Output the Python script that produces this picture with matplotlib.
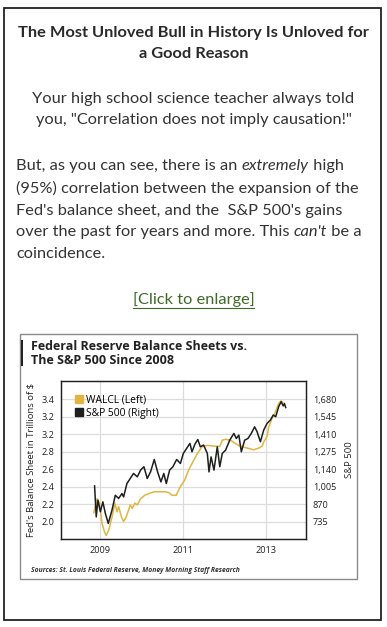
import matplotlib
matplotlib.use("Agg")
from matplotlib import pyplot as plt
from matplotlib.patches import Rectangle
from matplotlib.lines import Line2D

W, H = 387, 627

# --- page text ---
headline = ["The Most Unloved Bull in History Is Unloved for", "a Good Reason"]
para1 = ["Your high school science teacher always told", "you, \"Correlation does not imply causation!\""]
para2 = [
    [("But, as you can see, there is an ", "normal"), ("extremely", "italic"), (" high", "normal")],
    [("(95%) correlation between the expansion of the", "normal")],
    [("Fed's balance sheet, and the  S&P 500's gains", "normal")],
    [("over the past for years and more. This ", "normal"), ("can't", "italic"), (" be a", "normal")],
    [("coincidence.", "normal")],
]
link_text = "[Click to enlarge]"

# --- chart data ---
walcl_year = [2008.84, 2008.92, 2008.98, 2009.04, 2009.10, 2009.14, 2009.20, 2009.28, 2009.35, 2009.40,
              2009.44, 2009.51, 2009.56, 2009.62, 2009.68, 2009.72, 2009.77, 2009.83, 2009.89, 2009.97,
              2010.07, 2010.17, 2010.29, 2010.57, 2010.65, 2010.73, 2010.83, 2010.93, 2011.03, 2011.13,
              2011.25, 2011.37, 2011.46, 2011.58, 2011.82, 2011.88, 2011.94, 2012.02, 2012.14, 2012.26,
              2012.38, 2012.54, 2012.70, 2012.82, 2012.90, 2012.94, 2013.02, 2013.06, 2013.14, 2013.22,
              2013.30, 2013.36, 2013.40]
walcl = [2.10, 2.26, 2.21, 1.98, 1.88, 1.84, 1.90, 2.05, 2.21, 2.11,
         2.17, 2.05, 2.00, 2.05, 2.13, 2.19, 2.15, 2.21, 2.19, 2.26,
         2.30, 2.32, 2.34, 2.34, 2.33, 2.30, 2.30, 2.40, 2.47, 2.59,
         2.70, 2.80, 2.86, 2.87, 2.86, 2.86, 2.93, 2.94, 2.93, 2.89,
         2.86, 2.84, 2.82, 2.84, 2.86, 2.91, 2.97, 3.08, 3.18, 3.25,
         3.35, 3.38, 3.36]

spx_year = [2008.86, 2008.90, 2008.94, 2009.00, 2009.06, 2009.12, 2009.19, 2009.28, 2009.36, 2009.44,
            2009.52, 2009.56, 2009.64, 2009.72, 2009.80, 2009.89, 2009.97, 2010.05, 2010.13, 2010.21,
            2010.30, 2010.38, 2010.46, 2010.53, 2010.59, 2010.67, 2010.75, 2010.84, 2010.93, 2011.00,
            2011.08, 2011.16, 2011.21, 2011.28, 2011.35, 2011.41, 2011.49, 2011.58, 2011.62, 2011.67,
            2011.74, 2011.82, 2011.88, 2011.94, 2012.02, 2012.12, 2012.22, 2012.28, 2012.34, 2012.40,
            2012.48, 2012.56, 2012.64, 2012.72, 2012.78, 2012.86, 2012.94, 2013.02, 2013.10, 2013.17,
            2013.23, 2013.30, 2013.36, 2013.41, 2013.44, 2013.47]
spx = [1010, 771, 900, 810, 887, 797, 720, 823, 938, 913,
       951, 925, 1028, 1067, 1106, 1080, 1132, 1158, 1067, 1118,
       1214, 1118, 1041, 1106, 1028, 1132, 1158, 1214, 1183, 1260,
       1299, 1338, 1273, 1332, 1368, 1312, 1325, 1260, 1118, 1234,
       1132, 1312, 1158, 1260, 1286, 1363, 1415, 1376, 1402, 1273,
       1363, 1376, 1415, 1466, 1428, 1351, 1441, 1492, 1518, 1557,
       1544, 1621, 1660, 1627, 1646, 1615]

left_ticks = [2.0, 2.2, 2.4, 2.6, 2.8, 3.0, 3.2, 3.4]
left_labels = ["2.0", "2.2", "2.4", "2.6", "2.8", "3.2", "3.2", "3.4"]
right_ticks = [735, 870, 1005, 1140, 1275, 1410, 1545, 1680]
year_ticks = [2009, 2011, 2013]

GOLD = "#dfb63e"
DARK = "#1c1f1c"
TXT = "#333333"
BODY_SIZE = 11.8

fig = plt.figure(figsize=(W / 100, H / 100), dpi=100)


def fx(px):
    return px / W


def fy(py):
    return 1 - py / H


# outer frame
fig.add_artist(Rectangle((fx(4), fy(620)), fx(377), 612 / H, transform=fig.transFigure,
                         fill=False, edgecolor="#222222", linewidth=1.3))

body_font = "Lato"
for i, line in enumerate(headline):
    fig.text(0.5, fy([33, 54][i]), line, ha="center", va="center", fontsize=BODY_SIZE,
             fontweight="bold", family=body_font, color="#2a2a2a")
for i, line in enumerate(para1):
    fig.text(0.5, fy([99, 120][i]), line, ha="center", va="center", fontsize=BODY_SIZE,
             family=body_font, color=TXT)

renderer = fig.canvas.get_renderer()
for line, py in zip(para2, [166, 188, 211, 232, 254]):
    x = fx(16)
    for txt, style in line:
        t = fig.text(x, fy(py), txt, ha="left", va="center", fontsize=BODY_SIZE,
                     family=body_font, style=style, color=TXT)
        bb = t.get_window_extent(renderer)
        x = x + bb.width / W

fig.text(0.5, fy(300), link_text, ha="center", va="center", fontsize=BODY_SIZE,
         family=body_font, color="#3f6a26")
lt = fig.texts[-1].get_window_extent(renderer)
fig.add_artist(Line2D([lt.x0 / W, lt.x1 / W], [fy(308), fy(308)], color="#3f6a26",
                      linewidth=0.8, transform=fig.transFigure))

# chart image frame
fig.add_artist(Rectangle((fx(20), fy(579)), fx(337), 245 / H, transform=fig.transFigure,
                         fill=False, edgecolor="#8a8a8a", linewidth=1.0))
fig.add_artist(Rectangle((fx(20.5), fy(366)), fx(2.5), 26 / H, transform=fig.transFigure,
                         color="#222222", linewidth=0))
fig.text(fx(31), fy(347), "Federal Reserve Balance Sheets vs.", ha="left", va="center",
         fontsize=9, fontweight="bold", family="Open Sans", color="#222222")
fig.text(fx(31), fy(360), "The S&P 500 Since 2008", ha="left", va="center",
         fontsize=9, fontweight="bold", family="Open Sans", color="#222222")
fig.text(fx(31), fy(570), "Sources: St. Louis Federal Reserve, Money Morning Staff Research",
         ha="left", va="center", fontsize=4.9, style="italic", fontweight="bold",
         family="Open Sans", color="#333333")

ax = fig.add_axes([fx(61), fy(539), 245 / W, 158 / H])
ax2 = ax.twinx()

ax.plot(walcl_year, walcl, color=GOLD, linewidth=1.1)
ax2.plot(spx_year, spx, color=DARK, linewidth=1.1)

lo, hi = 1.8, 3.607
ax.set_ylim(lo, hi)
ax2.set_ylim(735 + (lo - 2.0) * 675, 735 + (hi - 2.0) * 675)
ax.set_xlim(2008.05, 2013.96)

ax.set_yticks(left_ticks)
ax.set_yticklabels(left_labels)
ax2.set_yticks(right_ticks)
ax2.set_yticklabels([f"{v:,}" for v in right_ticks])
ax.set_xticks(year_ticks)
ax.set_xticklabels([str(y) for y in year_ticks])

ax.grid(True, color="#dcdcdc", linewidth=0.9)
ax.set_axisbelow(True)
for a in (ax, ax2):
    a.tick_params(length=0, labelsize=6.6, colors="#222222")
    for s in a.spines.values():
        s.set_color("#222222")
        s.set_linewidth(0.9)
    for lbl in a.get_xticklabels() + a.get_yticklabels():
        lbl.set_family("Open Sans")
ax.tick_params(axis="y", pad=5)
ax.tick_params(axis="x", pad=5)
ax2.tick_params(axis="y", pad=5)

ax.set_ylabel("Fed's Balance Sheet in Trillions of $", fontsize=6.8, family="Open Sans",
              color="#222222", labelpad=4)
ax2.set_ylabel("S&P 500", fontsize=6.8, family="Open Sans", color="#222222", labelpad=6)

handles = [Line2D([], [], color=GOLD, marker="s", linestyle="none", markersize=5.5),
           Line2D([], [], color=DARK, marker="s", linestyle="none", markersize=5.5)]
leg = ax.legend(handles, ["WALCL (Left)", "S&P 500 (Right)"], loc="upper left",
                bbox_to_anchor=(0.03, 0.94), frameon=False,
                handletextpad=0.1, borderaxespad=0, labelspacing=0.2, handlelength=1.2,
                prop={"family": "Open Sans", "size": 7.4})

fig.savefig("out.png", dpi=100)
